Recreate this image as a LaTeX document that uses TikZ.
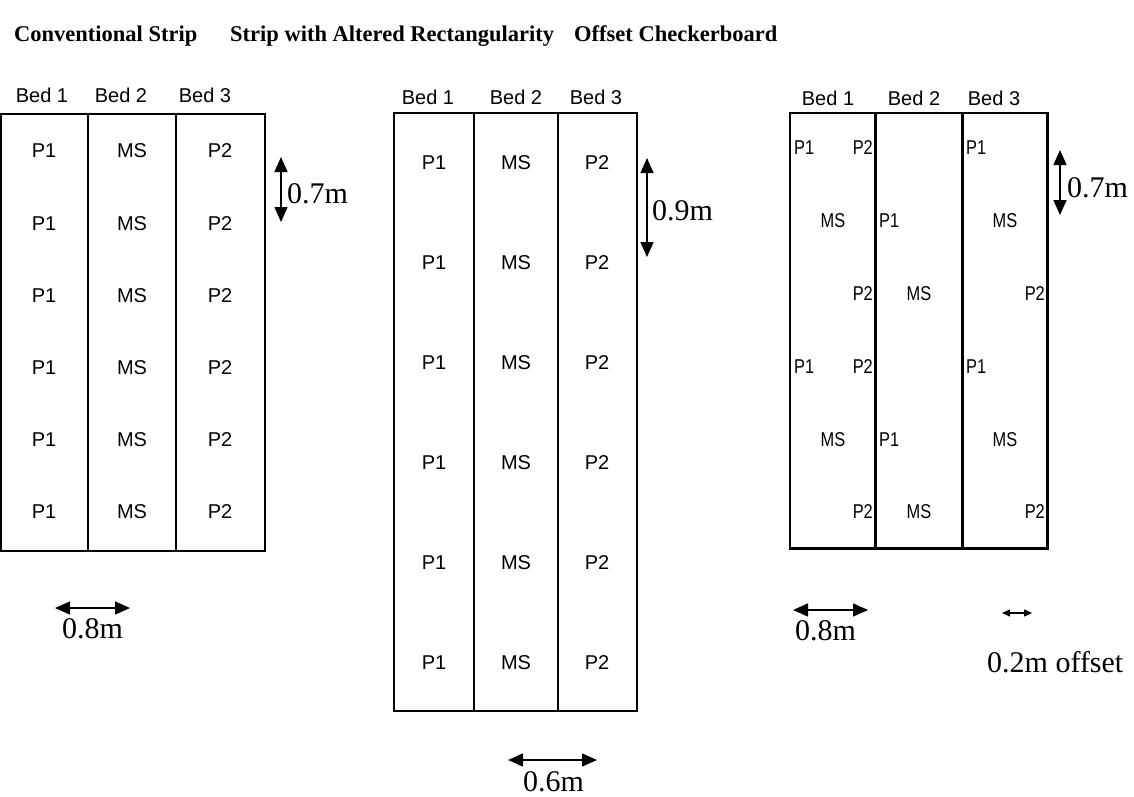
\documentclass[tikz,border=0pt]{standalone}
\usepackage{fontspec}
\setmainfont{Liberation Serif}
\newfontfamily\arial{Liberation Sans}
\newfontfamily\arialn[FakeStretch=0.82]{Liberation Sans}
\usetikzlibrary{arrows.meta}
\begin{document}
\begin{tikzpicture}[x=1pt,y=-1pt,
  lbl/.style={font=\arial\fontsize{20}{23}\selectfont, inner sep=0pt},
  rlbl/.style={font=\arialn\fontsize{20}{23}\selectfont, inner sep=0pt},
  meas/.style={font=\fontsize{30}{34}\selectfont, inner sep=0pt, anchor=base west},
  ttl/.style={font=\bfseries\fontsize{22.5}{26}\selectfont, inner sep=0pt, anchor=base west},
  dimarrow/.style={line width=1.5pt, {Triangle[width=13pt,length=15pt]}-{Triangle[width=13pt,length=15pt]}},
  smallarrow/.style={line width=1.2pt, {Triangle[width=7pt,length=8pt]}-{Triangle[width=7pt,length=8pt]}},
  frame/.style={line width=2pt, line cap=rect},
  heavy/.style={line width=3pt, line cap=rect}]
\useasboundingbox (0,0) rectangle (1134,796);

% titles
\node[ttl] (t1) at (14,41) {Conventional Strip};
\node[ttl] (t2) at (230,41) {Strip with Altered Rectangularity};
\node[ttl] (t3) at (574,41) {Offset Checkerboard};

% ---------------- left panel ----------------
\draw[frame] (1,114) rectangle (265,551);
\draw[frame] (88,114) -- (88,551);
\draw[frame] (176,114) -- (176,551);
\node[lbl] (lb1) at (42,95) {Bed 1};
\node[lbl] (lb2) at (121,95) {Bed 2};
\node[lbl] (lb3) at (205,95) {Bed 3};
\foreach \k in {0,...,5}{
  \node[lbl] (lp1\k) at (44,151+72.2*\k) {P1};
  \node[lbl] (lms\k) at (132,151+72.2*\k) {MS};
  \node[lbl] (lp2\k) at (220,151+72.2*\k) {P2};
}
\coordinate (la1) at (281,157);
\coordinate (la2) at (281,222);
\draw[dimarrow] (la1) -- (la2);
\begin{scope}
  \clip (283,182) rectangle (360,215);
  \node[meas] (lm07) at (287,203) {0.7m};
\end{scope}
\coordinate (lh1) at (55,608);
\coordinate (lh2) at (130,608);
\draw[dimarrow] (lh1) -- (lh2);
\node[meas] (lm08) at (62,638) {0.8m};

% ---------------- middle panel ----------------
\draw[frame] (394,113) rectangle (637,711);
\draw[frame] (474,113) -- (474,711);
\draw[frame] (558,113) -- (558,711);
\node[lbl] (mb1) at (428,97) {Bed 1};
\node[lbl] (mb2) at (516,97) {Bed 2};
\node[lbl] (mb3) at (596,97) {Bed 3};
\foreach \k in {0,...,5}{
  \node[lbl] (mp1\k) at (434,163+100*\k) {P1};
  \node[lbl] (mms\k) at (516,163+100*\k) {MS};
  \node[lbl] (mp2\k) at (597,163+100*\k) {P2};
}
\coordinate (ma1) at (647,158);
\coordinate (ma2) at (647,257);
\draw[dimarrow] (ma1) -- (ma2);
\node[meas] (mm09) at (652,220) {0.9m};
\coordinate (mh1) at (508,760);
\coordinate (mh2) at (597,760);
\draw[dimarrow] (mh1) -- (mh2);
\node[meas] (mm06) at (523,791) {0.6m};

% ---------------- right panel ----------------
\draw[frame] (790,548) -- (790,113) -- (1047,113);
\draw[heavy] (875,113) -- (875,548);
\draw[heavy] (962,113) -- (962,548);
\draw[heavy] (1047,113) -- (1047,548);
\draw[heavy] (790,548) -- (1047,548);
\node[lbl] (rb1) at (828,98) {Bed 1};
\node[lbl] (rb2) at (914,98) {Bed 2};
\node[lbl] (rb3) at (994,98) {Bed 3};
\foreach \k in {0,1}{
  % row a
  \node[rlbl, anchor=west] (ra1\k) at (794,148+218.4*\k) {P1};
  \node[rlbl, anchor=east] (ra2\k) at (873,148+218.4*\k) {P2};
  \node[rlbl, anchor=west] (ra3\k) at (966,148+218.4*\k) {P1};
  % row b
  \node[rlbl] (rb1\k) at (833,220.8+218.4*\k) {MS};
  \node[rlbl, anchor=west] (rb2\k) at (879,220.8+218.4*\k) {P1};
  \node[rlbl] (rb3\k) at (1005,220.8+218.4*\k) {MS};
  % row c
  \node[rlbl, anchor=east] (rc1\k) at (873,293.6+218.4*\k) {P2};
  \node[rlbl] (rc2\k) at (919,293.6+218.4*\k) {MS};
  \node[rlbl, anchor=east] (rc3\k) at (1045,293.6+218.4*\k) {P2};
}
\coordinate (ra1) at (1060,150);
\coordinate (ra2) at (1060,215);
\draw[dimarrow] (ra1) -- (ra2);
\node[meas] (rm07) at (1067,197) {0.7m};
\coordinate (rh1) at (793,610);
\coordinate (rh2) at (868,610);
\draw[dimarrow] (rh1) -- (rh2);
\node[meas] (rm08) at (795,640) {0.8m};
\coordinate (rs1) at (1002,613);
\coordinate (rs2) at (1032,613);
\draw[smallarrow] (rs1) -- (rs2);
\node[meas] (rm02) at (987,672) {0.2m offset};
\end{tikzpicture}
\end{document}
